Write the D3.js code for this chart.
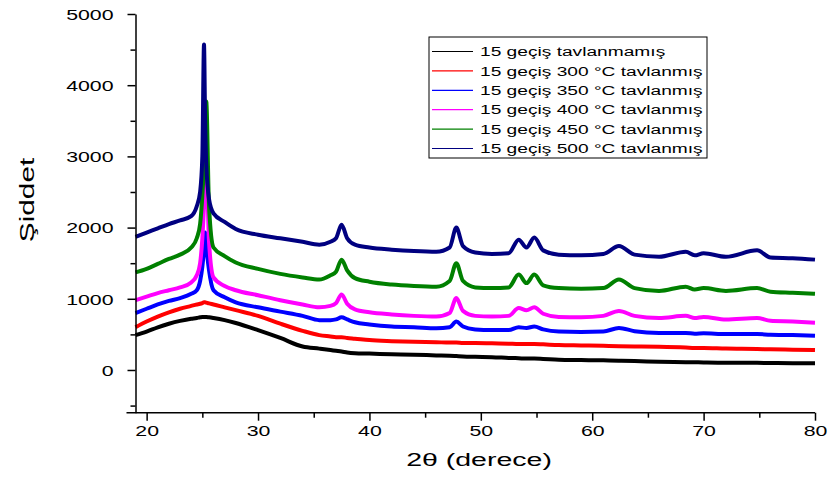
<!DOCTYPE html>
<html>
<head>
<meta charset="utf-8">
<script src="https://cdn.jsdelivr.net/npm/d3@7"></script>
<style>
  body { margin: 0; background: #fff; }
  svg { display: block; font-family: 'Liberation Sans', Arial, sans-serif; }
  .axis path, .axis line { stroke: #000; stroke-width: 1.5; }
</style>
</head>
<body>
<svg id="chart" width="830" height="477"></svg>
<script>
// 2-theta grid (degrees)
const angles = [19, 20, 21, 22, 23, 24, 24.5, 24.8, 25.0, 25.15, 25.25, 25.35, 25.6, 26, 27, 28, 30, 32, 34, 35.5, 36.5, 37.0, 37.5, 38.0, 38.7, 40, 42, 44, 46, 47.2, 47.8, 48.4, 49.5, 51, 52.5, 53.4, 54.1, 54.8, 55.6, 57, 59, 61, 62.4, 63.8, 66, 68.4, 69.2, 70, 72, 74.8, 76, 78, 80];

const unannealed = [490, 540, 600, 650, 690, 720, 730, 740, 745, 745, 745, 745, 740, 730, 700, 660, 560, 450, 330, 300, 280, 270, 260, 245, 235, 230, 220, 215, 205, 200, 195, 190, 185, 180, 170, 165, 160, 160, 155, 145, 140, 135, 130, 125, 115, 110, 108, 105, 100, 100, 98, 95, 95];
const t300 = [600, 680, 750, 810, 860, 900, 920, 930, 940, 950, 950, 945, 935, 920, 880, 840, 760, 650, 550, 490, 470, 460, 460, 450, 440, 420, 405, 395, 390, 385, 385, 380, 380, 375, 370, 365, 365, 365, 360, 350, 345, 340, 335, 330, 325, 315, 310, 310, 300, 295, 290, 285, 280];
const t350 = [800, 860, 920, 970, 1010, 1070, 1120, 1250, 1450, 1700, 1930, 1750, 1400, 1120, 1020, 950, 880, 820, 760, 700, 700, 710, 740, 710, 670, 640, 610, 600, 585, 600, 680, 610, 570, 560, 560, 600, 590, 610, 570, 540, 535, 540, 590, 545, 520, 520, 510, 515, 505, 505, 495, 490, 480];
const t400 = [980, 1030, 1080, 1120, 1160, 1230, 1330, 1500, 1850, 2300, 2700, 2930, 1800, 1300, 1180, 1120, 1050, 980, 920, 880, 900, 940, 1060, 930, 850, 810, 780, 760, 750, 800, 1010, 830, 760, 750, 760, 870, 840, 880, 790, 745, 740, 760, 830, 760, 730, 760, 730, 745, 710, 730, 690, 680, 665];
const t450 = [1370, 1420, 1490, 1560, 1620, 1720, 1850, 2050, 2450, 2900, 3400, 3770, 2300, 1720, 1600, 1510, 1420, 1350, 1300, 1270, 1330, 1380, 1550, 1400, 1290, 1240, 1200, 1180, 1170, 1250, 1500, 1250, 1160, 1150, 1160, 1340, 1220, 1340, 1190, 1150, 1140, 1150, 1270, 1150, 1110, 1170, 1130, 1150, 1110, 1150, 1100, 1085, 1070];
const t500 = [1870, 1930, 1990, 2050, 2100, 2160, 2300, 2500, 3000, 4570, 3500, 2900, 2400, 2200, 2080, 1980, 1900, 1850, 1800, 1760, 1800, 1850, 2040, 1850, 1760, 1720, 1690, 1670, 1660, 1720, 2000, 1740, 1650, 1630, 1640, 1830, 1720, 1860, 1680, 1620, 1610, 1630, 1740, 1620, 1590, 1660, 1610, 1640, 1590, 1680, 1580, 1570, 1550];

const seriesNames = ['15 geçiş tavlanmamış', '15 geçiş 300 °C tavlanmış', '15 geçiş 350 °C tavlanmış', '15 geçiş 400 °C tavlanmış', '15 geçiş 450 °C tavlanmış', '15 geçiş 500 °C tavlanmış'];
const seriesValues = [unannealed, t300, t350, t400, t450, t500];
const seriesColors = ['#000000', '#ff0000', '#0000ff', '#ff00ff', '#008000', '#000080'];

const yTicks = [0, 1000, 2000, 3000, 4000, 5000];
const yMinor = [-500, 500, 1500, 2500, 3500, 4500];
const xTicks = [20, 30, 40, 50, 60, 70, 80];
const xMinor = [25, 35, 45, 55, 65, 75];

const stretch = 1.42; // text in the picture is wide

const svg = d3.select('#chart');
const plotLeft = 135.5, plotRight = 815, plotTop = 14, plotBottom = 412.7;

const x = d3.scaleLinear().domain([19, 80]).range([plotLeft, plotRight]);
const y = d3.scaleLinear().domain([-600, 5000]).range([plotBottom, plotTop]);

// lines
const line = d3.line()
  .curve(d3.curveMonotoneX)
  .x(function (d) { return x(d[0]); })
  .y(function (d) { return y(d[1]); });

const plot = svg.append('g');
seriesValues.forEach(function (vals, i) {
  const pts = angles.map(function (a, j) { return [a, vals[j]]; });
  plot.append('path')
    .datum(pts)
    .attr('fill', 'none')
    .attr('stroke', seriesColors[i])
    .attr('stroke-width', 4)
    .attr('stroke-linejoin', 'round')
    .attr('d', line);
});

// axes
const yAxis = svg.append('g').attr('class', 'axis')
  .attr('transform', 'translate(' + plotLeft + ',0)')
  .call(d3.axisLeft(y).tickValues(yTicks).tickSize(8).tickSizeOuter(0).tickFormat(d3.format('d')));
yAxis.selectAll('text')
  .attr('x', 0)
  .attr('dy', '0.35em')
  .attr('font-size', 15)
  .attr('fill', '#000')
  .attr('transform', 'translate(-22,0) scale(' + stretch + ',1)');
svg.append('g').attr('class', 'axis')
  .attr('transform', 'translate(' + plotLeft + ',0)')
  .call(d3.axisLeft(y).tickValues(yMinor).tickSize(5).tickFormat(''))
  .select('.domain').remove();

const xAxis = svg.append('g').attr('class', 'axis')
  .attr('transform', 'translate(0,' + plotBottom + ')')
  .call(d3.axisBottom(x).tickValues(xTicks).tickSize(8).tickSizeOuter(0));
xAxis.select('.domain').attr('d', 'M' + (plotLeft - 9) + ',0H' + plotRight);
xAxis.selectAll('text')
  .attr('y', 0)
  .attr('dy', 0)
  .attr('font-size', 15)
  .attr('fill', '#000')
  .attr('transform', 'translate(0,23) scale(' + stretch + ',1)');
svg.append('g').attr('class', 'axis')
  .attr('transform', 'translate(0,' + plotBottom + ')')
  .call(d3.axisBottom(x).tickValues(xMinor).tickSize(5).tickFormat(''))
  .select('.domain').remove();

// axis titles
svg.append('text')
  .attr('text-anchor', 'middle')
  .attr('font-size', 19)
  .attr('transform', 'translate(479,466) scale(1.5,1)')
  .text('2θ (derece)');

svg.append('text')
  .attr('text-anchor', 'middle')
  .attr('font-size', 21)
  .attr('transform', 'translate(34,200) rotate(-90) scale(' + stretch + ',1)')
  .text('Şiddet');

// legend
const legend = svg.append('g');
legend.append('rect')
  .attr('x', 429).attr('y', 37)
  .attr('width', 278).attr('height', 121)
  .attr('fill', '#fff')
  .attr('stroke', '#000')
  .attr('stroke-width', 1);
seriesNames.forEach(function (name, i) {
  const ly = 51.5 + i * 19.4;
  legend.append('line')
    .attr('x1', 432).attr('x2', 473)
    .attr('y1', ly).attr('y2', ly)
    .attr('stroke', seriesColors[i])
    .attr('stroke-width', 1.2);
  legend.append('text')
    .attr('font-size', 13.5)
    .attr('dy', '0.35em')
    .attr('transform', 'translate(480,' + ly + ') scale(' + stretch + ',1)')
    .text(name);
});
</script>
</body>
</html>
